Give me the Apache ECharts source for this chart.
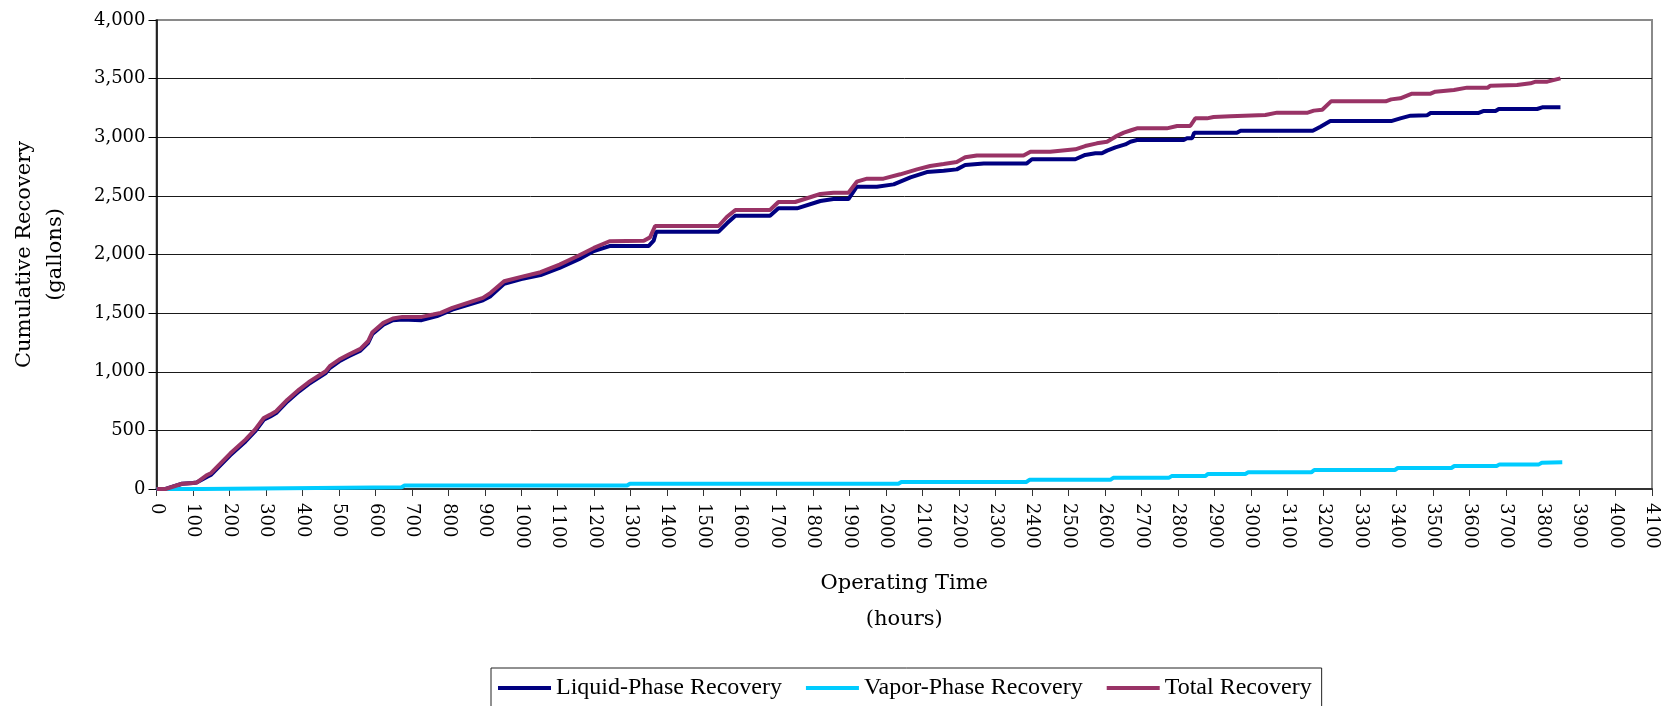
<!DOCTYPE html>
<html>
<head>
<meta charset="utf-8">
<script src="https://cdn.jsdelivr.net/npm/echarts@6/dist/echarts.min.js"></script>
<style>
  html, body { margin: 0; padding: 0; background: #fff; }
  #chart { width: 1671px; height: 706px; }
</style>
</head>
<body>
<div id="chart"></div>
<script>
// hours / gallons
var totalHours = [0, 25, 70, 100, 110, 139, 150, 202, 244, 270, 294, 312, 328, 359, 391, 417, 464, 475, 501, 527, 559, 580, 592, 622, 648, 674, 727, 758, 779, 811, 895, 916, 953, 1000, 1053, 1105, 1158, 1199, 1242, 1336, 1353, 1367, 1541, 1564, 1587, 1682, 1705, 1751, 1820, 1856, 1897, 1920, 1948, 1993, 2039, 2085, 2121, 2158, 2194, 2217, 2249, 2377, 2396, 2450, 2519, 2546, 2578, 2606, 2629, 2652, 2674, 2688, 2770, 2798, 2834, 2848, 2880, 2898, 2944, 3040, 3072, 3156, 3173, 3196, 3220, 3370, 3385, 3410, 3442, 3493, 3506, 3557, 3593, 3650, 3657, 3730, 3767, 3781, 3813, 3849]
var totalGallons = [0, 0, 45, 51, 55, 120, 137, 302, 421, 506, 606, 634, 663, 762, 848, 910, 1004, 1047, 1104, 1147, 1195, 1260, 1337, 1417, 1454, 1468, 1468, 1488, 1502, 1545, 1630, 1673, 1772, 1809, 1849, 1914, 1991, 2056, 2113, 2118, 2146, 2243, 2243, 2322, 2379, 2379, 2448, 2448, 2516, 2527, 2527, 2621, 2647, 2647, 2684, 2726, 2755, 2772, 2789, 2829, 2845, 2845, 2877, 2877, 2897, 2925, 2948, 2962, 3005, 3039, 3062, 3076, 3076, 3096, 3096, 3161, 3161, 3172, 3180, 3190, 3210, 3210, 3227, 3235, 3306, 3306, 3323, 3332, 3372, 3372, 3389, 3403, 3423, 3423, 3440, 3446, 3460, 3474, 3474, 3502]

var liquidHours = [0, 25, 70, 100, 110, 139, 150, 202, 244, 270, 294, 312, 328, 359, 391, 417, 464, 475, 501, 527, 559, 580, 592, 622, 648, 674, 727, 769, 811, 895, 916, 953, 1000, 1053, 1105, 1158, 1199, 1242, 1349, 1363, 1370, 1541, 1564, 1587, 1682, 1705, 1756, 1820, 1856, 1897, 1920, 1975, 2021, 2067, 2112, 2158, 2194, 2217, 2268, 2386, 2400, 2519, 2546, 2574, 2592, 2606, 2629, 2656, 2670, 2688, 2816, 2825, 2839, 2845, 2962, 2972, 3170, 3191, 3218, 3385, 3410, 3438, 3483, 3493, 3625, 3639, 3671, 3680, 3785, 3799, 3849]
var liquidGallons = [0, 0, 45, 51, 55, 105, 122, 287, 406, 491, 591, 619, 648, 747, 833, 895, 989, 1032, 1089, 1132, 1180, 1245, 1322, 1402, 1439, 1445, 1440, 1474, 1530, 1610, 1645, 1750, 1790, 1825, 1885, 1960, 2030, 2072, 2072, 2118, 2195, 2195, 2266, 2331, 2331, 2394, 2394, 2456, 2473, 2473, 2578, 2578, 2598, 2658, 2703, 2715, 2726, 2763, 2777, 2777, 2812, 2812, 2849, 2863, 2863, 2886, 2914, 2939, 2962, 2976, 2976, 2991, 2991, 3039, 3039, 3056, 3056, 3090, 3138, 3138, 3161, 3184, 3187, 3207, 3207, 3224, 3224, 3241, 3241, 3255, 3255]

var vaporHours = [0, 124, 128, 672, 680, 1290, 1298, 2034, 2042, 2385, 2393, 2615, 2623, 2775, 2783, 2875, 2883, 2985, 2993, 3166, 3174, 3395, 3403, 3550, 3558, 3674, 3682, 3790, 3798, 3854]
var vaporGallons = [0, 0, 15, 15, 30, 30, 45, 45, 60, 60, 78, 78, 95, 95, 110, 110, 128, 128, 142, 142, 162, 162, 179, 179, 196, 196, 210, 210, 224, 228]

var yTicks = [0, 500, 1000, 1500, 2000, 2500, 3000, 3500, 4000]

function pairs(xs, ys) {
  return xs.map(function (x, i) { return [x, ys[i]] })
}

var serif = 'DejaVu Serif'
var chart = echarts.init(document.getElementById('chart'))

chart.setOption({
  animation: false,
  grid: {
    left: 156.5,
    right: 19,
    top: 20,
    bottom: 217,
    show: true,
    borderColor: '#8a8a8a',
    borderWidth: 2
  },
  legend: {
    left: 491,
    top: 668,
    padding: [8, 10, 8, 7],
    itemGap: 24,
    itemWidth: 53,
    itemHeight: 4,
    icon: 'rect',
    borderColor: '#222',
    borderWidth: 1,
    textStyle: {
      fontFamily: 'Liberation Serif',
      fontSize: 24,
      color: '#000'
    },
    data: ['Liquid-Phase Recovery', 'Vapor-Phase Recovery', 'Total Recovery']
  },
  xAxis: {
    type: 'value',
    min: 0,
    max: 4100,
    interval: 100,
    name: 'Operating Time\n(hours)',
    nameLocation: 'middle',
    nameGap: 77,
    nameTextStyle: {
      fontFamily: serif,
      fontSize: 21,
      lineHeight: 36,
      color: '#000'
    },
    axisLine: { lineStyle: { color: '#333', width: 2 } },
    axisTick: { length: 7, lineStyle: { color: '#333' } },
    axisLabel: {
      rotate: -90,
      margin: 14,
      fontFamily: serif,
      fontSize: 18,
      color: '#000',
      formatter: function (v) { return String(v) }
    },
    splitLine: { show: false }
  },
  yAxis: {
    type: 'value',
    min: 0,
    max: 4000,
    interval: 500,
    name: 'Cumulative Recovery\n(gallons)',
    nameLocation: 'middle',
    nameGap: 85,
    nameTextStyle: {
      fontFamily: serif,
      fontSize: 21,
      lineHeight: 31,
      color: '#000'
    },
    axisLine: { show: true, lineStyle: { color: '#000', width: 1.5 } },
    axisTick: { show: true, length: 8, lineStyle: { color: '#000' } },
    axisLabel: {
      margin: 11,
      fontFamily: serif,
      fontSize: 18,
      color: '#000',
      formatter: function (v) {
        return yTicks.indexOf(v) >= 0 ? v.toLocaleString('en-US') : ''
      }
    },
    splitLine: {
      show: true,
      showMinLine: false,
      showMaxLine: false,
      lineStyle: { color: '#1a1a1a', width: 1 }
    }
  },
  series: [{
    name: 'Liquid-Phase Recovery',
    type: 'line',
    symbol: 'none',
    data: pairs(liquidHours, liquidGallons),
    lineStyle: { color: '#000080', width: 4 },
    itemStyle: { color: '#000080' }
  },
  {
    name: 'Vapor-Phase Recovery',
    type: 'line',
    symbol: 'none',
    data: pairs(vaporHours, vaporGallons),
    lineStyle: { color: '#00ccff', width: 4 },
    itemStyle: { color: '#00ccff' }
  },
  {
    name: 'Total Recovery',
    type: 'line',
    symbol: 'none',
    data: pairs(totalHours, totalGallons),
    lineStyle: { color: '#993366', width: 4 },
    itemStyle: { color: '#993366' }
  }]
})
</script>
</body>
</html>
